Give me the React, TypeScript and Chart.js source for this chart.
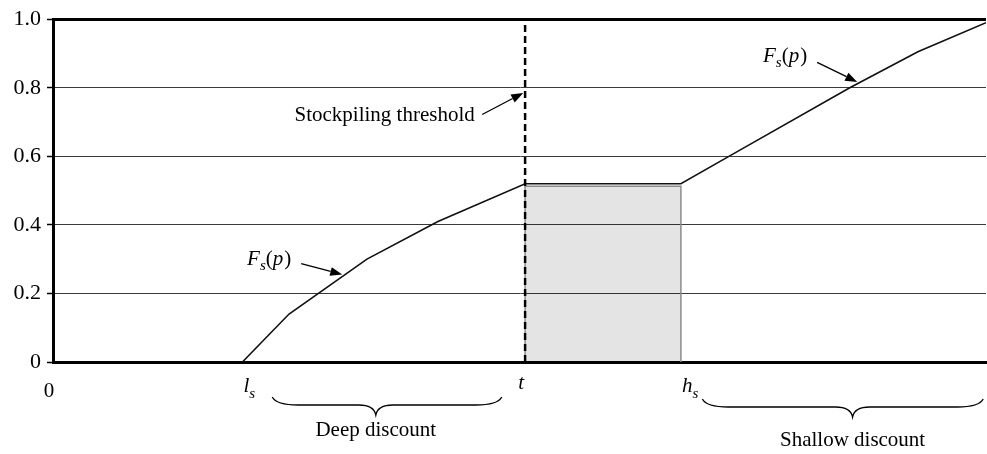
import React, { useEffect, useRef } from 'react';
import { Chart, registerables } from 'chart.js';

Chart.register(...registerables);

// ---- data (x in price units 0..100, y = cumulative share) ----
const curveX = [20.3, 25.3, 33.65, 41.26, 50.6, 67.3, 73.1, 85.4, 92.7, 100];
const curveY = [0, 0.14, 0.3, 0.41, 0.52, 0.52, 0.61, 0.8, 0.905, 0.99];
const thresholdX = 50.6;
const highX = 67.3;
const boxHeight = 0.513;
const yTicks = [0, 0.2, 0.4, 0.6, 0.8, 1.0];
const xTickValues = [0, 20.3, 50.6, 67.3];
const xTickMain = ['0', 'l', 't', 'h'];
const xTickSub = ['', 's', '', 's'];
const braceStart = [23.5, 69.6];
const braceEnd = [48.1, 99.7];
const braceTip = [34.6, 85.7];
const braceLabels = ['Deep discount', 'Shallow discount'];
const fLabelX = [20.8, 76.1];
const fLabelY = [0.284, 0.874];
const fArrowFromX = [26.6, 81.9];
const fArrowFromY = [0.287, 0.874];
const fArrowToX = [31.0, 86.2];
const fArrowToY = [0.255, 0.817];
const thresholdLabel = 'Stockpiling threshold';
const thresholdLabelX = 45.2;
const thresholdLabelY = 0.702;
const thresholdArrowFrom = [46.0, 0.722];
const thresholdArrowTo = [50.4, 0.785];

const SERIF = '"Liberation Serif", "Times New Roman", serif';

const annotationPlugin = {
  id: 'annotations',
  afterDraw(chart: any) {
    const { ctx, chartArea } = chart;
    const xs = chart.scales.x;
    const ys = chart.scales.y;
    const px = (v: number) => xs.getPixelForValue(v);
    const py = (v: number) => ys.getPixelForValue(v);
    ctx.save();
    ctx.fillStyle = '#000';
    ctx.strokeStyle = '#000';
    ctx.textBaseline = 'alphabetic';

    // x tick labels
    xTickValues.forEach((v, i) => {
      const x = px(v);
      const main = xTickMain[i];
      const sub = xTickSub[i];
      if (main === '0') {
        ctx.font = `21px ${SERIF}`;
        ctx.textAlign = 'center';
        ctx.fillText(main, x - 4, chartArea.bottom + 35);
      } else if (sub) {
        ctx.font = `italic 21px ${SERIF}`;
        ctx.textAlign = 'left';
        const base = chartArea.bottom + 30;
        ctx.fillText(main, x + 1, base);
        const w = ctx.measureText(main).width;
        ctx.font = `italic 15px ${SERIF}`;
        ctx.fillText(sub, x + 1 + w, base + 6);
      } else {
        ctx.font = `italic 21px ${SERIF}`;
        ctx.textAlign = 'center';
        ctx.fillText(main, x - 4, chartArea.bottom + 27);
      }
    });

    // braces + labels
    const labelDrop = [74, 84];
    braceStart.forEach((s, i) => {
      const x1 = px(s);
      const x2 = px(braceEnd[i]);
      const xc = px(braceTip[i]);
      const top = chartArea.bottom + 35 + i * 2;
      const mid = top + 8;
      const tip = top + 18;
      const rEnd = 26;
      const rTip = 17;
      ctx.beginPath();
      ctx.lineWidth = 1.3;
      ctx.moveTo(x1, top);
      ctx.quadraticCurveTo(x1 + 4, mid, x1 + rEnd, mid);
      ctx.lineTo(xc - rTip, mid);
      ctx.quadraticCurveTo(xc - 2, mid, xc, tip);
      ctx.quadraticCurveTo(xc + 2, mid, xc + rTip, mid);
      ctx.lineTo(x2 - rEnd, mid);
      ctx.quadraticCurveTo(x2 - 4, mid, x2, top);
      ctx.stroke();
      ctx.font = `21px ${SERIF}`;
      ctx.textAlign = 'center';
      ctx.fillText(braceLabels[i], xc, chartArea.bottom + labelDrop[i]);
    });

    const arrow = (x0: number, y0: number, x1: number, y1: number) => {
      const ang = Math.atan2(y1 - y0, x1 - x0);
      const L = 12;
      const W = 4.5;
      const c = Math.cos(ang);
      const sn = Math.sin(ang);
      ctx.beginPath();
      ctx.lineWidth = 1.3;
      ctx.moveTo(x0, y0);
      ctx.lineTo(x1 - L * c, y1 - L * sn);
      ctx.stroke();
      ctx.beginPath();
      ctx.moveTo(x1, y1);
      ctx.lineTo(x1 - L * c + W * sn, y1 - L * sn - W * c);
      ctx.lineTo(x1 - L * c - W * sn, y1 - L * sn + W * c);
      ctx.closePath();
      ctx.fill();
    };

    // F_s(p) labels
    const drawFs = (x: number, y: number) => {
      ctx.textAlign = 'left';
      let cx = x;
      ctx.font = `italic 21px ${SERIF}`;
      ctx.fillText('F', cx, y);
      cx += ctx.measureText('F').width;
      ctx.font = `italic 15px ${SERIF}`;
      ctx.fillText('s', cx, y + 5);
      cx += ctx.measureText('s').width;
      ctx.font = `21px ${SERIF}`;
      ctx.fillText('(', cx, y);
      cx += ctx.measureText('(').width;
      ctx.font = `italic 21px ${SERIF}`;
      ctx.fillText('p', cx, y);
      cx += ctx.measureText('p').width + 1;
      ctx.font = `21px ${SERIF}`;
      ctx.fillText(')', cx, y);
    };
    fLabelX.forEach((v, i) => {
      drawFs(px(v), py(fLabelY[i]));
      arrow(px(fArrowFromX[i]), py(fArrowFromY[i]), px(fArrowToX[i]), py(fArrowToY[i]));
    });

    // threshold label
    ctx.font = `21px ${SERIF}`;
    ctx.textAlign = 'right';
    ctx.fillText(thresholdLabel, px(thresholdLabelX), py(thresholdLabelY));
    arrow(
      px(thresholdArrowFrom[0]), py(thresholdArrowFrom[1]),
      px(thresholdArrowTo[0]), py(thresholdArrowTo[1])
    );
    ctx.restore();
  },
};

export default function App() {
  const canvasRef = useRef<HTMLCanvasElement | null>(null);

  useEffect(() => {
    if (!canvasRef.current) return;
    const isTop = (c: any) => c.tick && Math.abs(c.tick.value - 1) < 1e-9;
    const chart = new Chart(canvasRef.current, {
      type: 'line',
      data: {
        datasets: [
          {
            label: 'F_s(p)',
            data: curveX.map((x, i) => ({ x, y: curveY[i] })),
            borderColor: '#111',
            borderWidth: 1.6,
            pointRadius: 0,
            tension: 0,
            fill: false,
            order: 2,
          },
          {
            label: 'box',
            data: [
              { x: thresholdX, y: 0 },
              { x: thresholdX, y: boxHeight },
              { x: highX, y: boxHeight },
              { x: highX, y: 0 },
            ],
            borderColor: '#8a8a8a',
            borderWidth: 1.5,
            backgroundColor: 'rgba(0,0,0,0.105)',
            fill: 'origin',
            pointRadius: 0,
            tension: 0,
            order: 3,
          },
          {
            label: 'threshold',
            data: [
              { x: thresholdX, y: 0 },
              { x: thresholdX, y: 1 },
            ],
            borderColor: '#000',
            borderWidth: 2.5,
            borderDash: [7, 4],
            pointRadius: 0,
            fill: false,
            order: 1,
          },
        ],
      } as any,
      options: {
        animation: false,
        responsive: true,
        maintainAspectRatio: false,
        layout: { padding: { top: 13, right: 1, left: 0, bottom: 0 } },
        plugins: {
          legend: { display: false },
          tooltip: { enabled: false },
        },
        events: [],
        scales: {
          x: {
            type: 'linear',
            min: 0,
            max: 100,
            ticks: { display: false },
            grid: { drawOnChartArea: false, drawTicks: false, color: 'rgba(0,0,0,0)' },
            border: { color: '#000', width: 3 },
            afterFit: (s: any) => {
              s.height = 92;
            },
          },
          y: {
            min: 0,
            max: 1,
            afterBuildTicks: (s: any) => {
              s.ticks = yTicks.map((v) => ({ value: v }));
            },
            ticks: {
              callback: (v: any) => (Number(v) === 0 ? '0' : Number(v).toFixed(1)),
              color: '#000',
              font: { family: SERIF, size: 22 },
              padding: 6,
            },
            grid: {
              color: (c: any) => (isTop(c) ? '#000' : '#3a3a3a'),
              lineWidth: (c: any) => (isTop(c) ? 3 : 1),
              tickLength: 6,
              tickColor: '#000',
              tickWidth: 1.5,
              drawTicks: true,
            },
            border: { color: '#000', width: 3 },
            afterFit: (s: any) => {
              s.width = 53;
            },
          },
        },
      } as any,
      plugins: [annotationPlugin],
    });
    return () => chart.destroy();
  }, []);

  return (
    <div style={{ position: 'fixed', left: 0, top: 0, width: 987, height: 454, background: '#fff' }}>
      <canvas ref={canvasRef} />
    </div>
  );
}
